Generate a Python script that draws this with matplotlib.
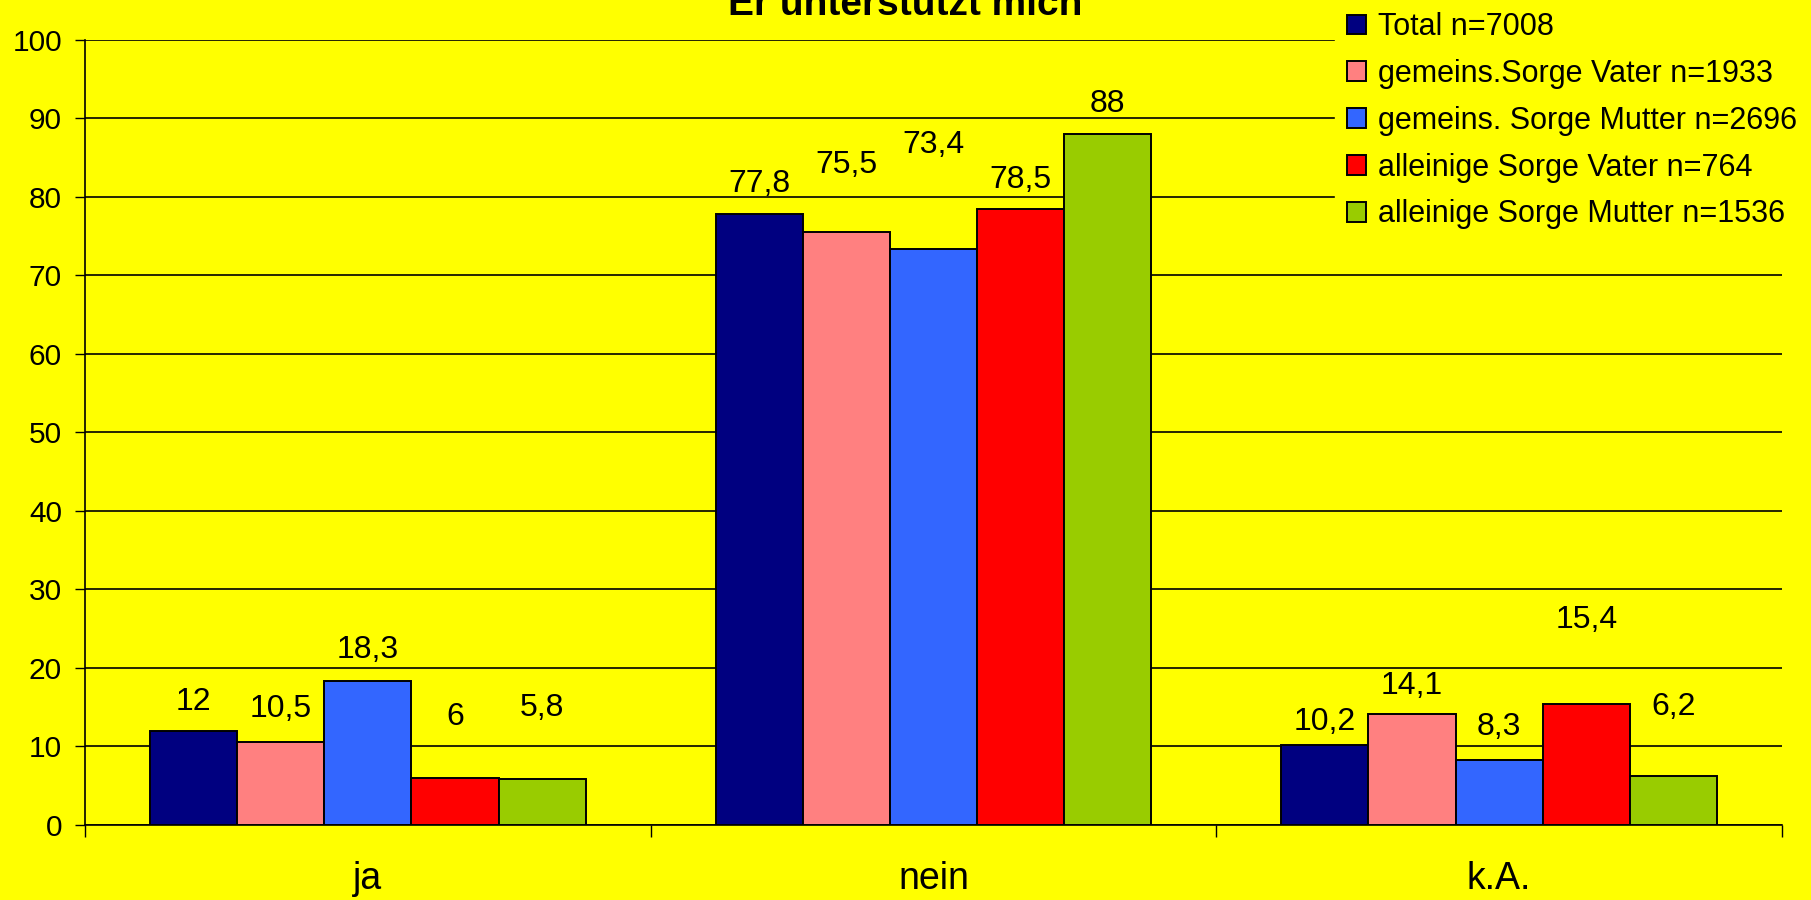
import numpy as np
import matplotlib
matplotlib.use("Agg")
import matplotlib.pyplot as plt

plt.rcParams['font.family'] = ['Liberation Sans', 'DejaVu Sans']

# Data
categories = ["ja", "nein", "k.A."]
series = ["Total n=7008", "gemeins.Sorge Vater n=1933", "gemeins. Sorge Mutter n=2696",
          "alleinige Sorge Vater n=764", "alleinige Sorge Mutter n=1536"]
total = [12, 77.8, 10.2]
gem_vater = [10.5, 75.5, 14.1]
gem_mutter = [18.3, 73.4, 8.3]
allein_vater = [6, 78.5, 15.4]
allein_mutter = [5.8, 88, 6.2]
values = [total, gem_vater, gem_mutter, allein_vater, allein_mutter]

# label heights above bar tops (like the hand-placed labels in the original)
label_offsets = [
    [3.6, 4.2, 3.9, 7.7, 9.1],
    [3.9, 8.6, 13.2, 3.7, 3.8],
    [2.9, 3.6, 4.1, 10.7, 8.8],
]

colors = ["#000080", "#FF8080", "#3366FF", "#FF0000", "#99CC00"]
bg = "#FFFF00"

fig = plt.figure(figsize=(18.11, 9), dpi=100, facecolor=bg)
ax = fig.add_axes([85 / 1811, 0.0837, (1782 - 85) / 1811, 0.9556 - 0.0837])
ax.set_facecolor(bg)

x = np.arange(len(categories))
w = 0.154
bars = []
for i, vals in enumerate(values):
    pos = x + (i - 2) * w
    b = ax.bar(pos, vals, w, color=colors[i], edgecolor="black", linewidth=1.4,
               label=series[i], zorder=3)
    bars.append(b)
    for j, v in enumerate(vals):
        ax.text(pos[j], v + label_offsets[j][i], str(v).replace(".", ","),
                ha="center", va="center", fontsize=23, zorder=4)

ax.set_xlim(-0.5, 2.5)
ax.set_ylim(0, 100)
ax.set_yticks(range(0, 101, 10))
ax.yaxis.grid(True, color="black", linewidth=1.2, zorder=0)
ax.tick_params(axis="y", labelsize=21.5, length=7.5, width=1, pad=9, direction="out")

ax.set_xticks([-0.5, 0.5, 1.5, 2.5])
ax.set_xticklabels([])
ax.tick_params(axis="x", which="major", length=8.6, width=1, direction="out")
ax.set_xticks(x, minor=True)
ax.set_xticklabels(categories, minor=True)
ax.tick_params(axis="x", which="minor", length=0, labelsize=27, pad=26)

for s in ["top", "right"]:
    ax.spines[s].set_visible(False)
for s in ["left", "bottom"]:
    ax.spines[s].set_color("black")
    ax.spines[s].set_linewidth(1.2)

fig.text(0.5, 1 - 15 / 900, "Er unterstützt mich", ha="center", va="baseline",
         fontsize=28, fontweight="bold")

leg = fig.legend(handles=bars, labels=series, loc="upper left",
                 bbox_to_anchor=(1335 / 1811, 1.0), borderaxespad=0,
                 fontsize=22, frameon=True, facecolor=bg, edgecolor=bg, framealpha=1,
                 fancybox=False, handlelength=0.62, handleheight=0.62,
                 handletextpad=0.38, borderpad=0.4, labelspacing=0.55)
leg.set_zorder(10)

fig.savefig("out.png", dpi=100, facecolor=bg)
